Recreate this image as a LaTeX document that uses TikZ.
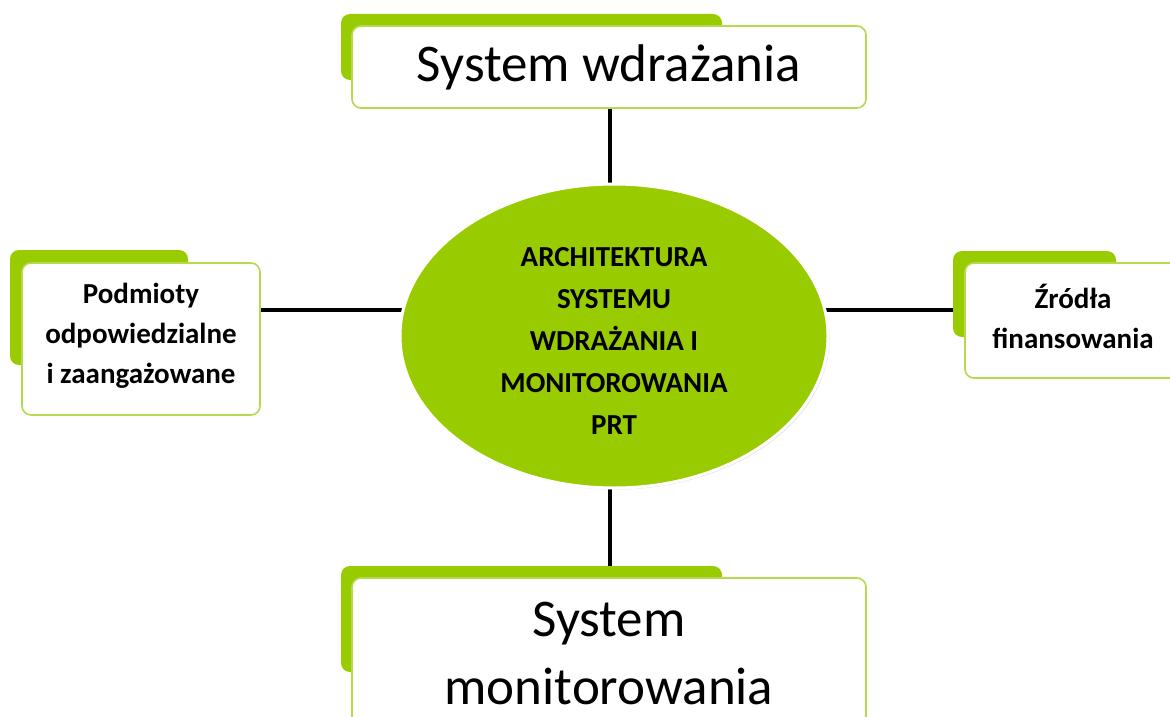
\documentclass[tikz,border=0pt]{standalone}
\usepackage{fontspec}
\setmainfont{Carlito}
\usetikzlibrary{shadows,backgrounds,shapes.geometric}
\definecolor{lime}{HTML}{99CC00}
\definecolor{limeline}{HTML}{B3DB4D}
\pgfdeclarelayer{canvas}
\pgfsetlayers{canvas,background,main}
\begin{document}
\begin{tikzpicture}[x=1pt,y=-1pt,
  tab/.style={fill=lime,rounded corners=9pt},
  card/.style={draw=limeline,line width=1.6pt,fill=white,rounded corners=9pt},
  big/.style={font=\fontsize{53}{68}\selectfont,align=center},
  small/.style={font=\fontsize{29}{40}\selectfont\bfseries,align=center},
  link/.style={line width=3.4pt,black}]
\useasboundingbox (0,0) rectangle (1170,717);
\begin{pgfonlayer}{canvas}
\fill[white] (0,0) rectangle (1170,717);
\end{pgfonlayer}
% top
\fill[tab] (341,14) rectangle (722,80);
\draw[card] (352,26) rectangle (866,108);
\node[minimum width=514pt,minimum height=82pt] (top) at (609,67) {};
\node[big] (toptxt) at (609,67) {System wdrażania};
% left
\fill[tab] (10,250) rectangle (188,365);
\draw[card] (22,263) rectangle (260,415);
\node[minimum width=238pt,minimum height=152pt] (left) at (141,339) {};
\node[small] (lefttxt) at (141,336) {Podmioty\\odpowiedzialne\\i zaangażowane};
% right
\fill[tab] (953,251) rectangle (1116,337);
\draw[card] (965,263) rectangle (1185,378);
\node[minimum width=220pt,minimum height=115pt] (right) at (1075,320) {};
\node[small] (righttxt) at (1073,316) {Źródła\\finansowania};
% bottom
\fill[tab] (341,566) rectangle (722,672);
\draw[card] (352,578) rectangle (866,730);
\node[minimum width=514pt,minimum height=152pt] (bottom) at (609,654) {};
\node[big] (bottxt) at (609,653) {System\\monitorowania};
% centre
\node[ellipse,fill=lime,draw=white,line width=3pt,minimum width=428pt,minimum height=304pt,
  drop shadow={shadow xshift=1.5pt,shadow yshift=-1.5pt,fill=black!30}] (c) at (614,336) {};
\node[small,font=\fontsize{29}{42}\selectfont\bfseries] (ctxt) at (614,341) {ARCHITEKTURA\\SYSTEMU\\WDRAŻANIA I\\MONITOROWANIA\\PRT};
\coordinate (hl) at (0,310);
\coordinate (vl) at (610,0);
\begin{scope}[on background layer]
\draw[link] (top.south -| vl) -- (c.center -| vl);
\draw[link] (bottom.north -| vl) -- (c.center -| vl);
\draw[link] (left.east |- hl) -- (c.center |- hl);
\draw[link] (right.west |- hl) -- (c.center |- hl);
\end{scope}
\end{tikzpicture}
\end{document}
